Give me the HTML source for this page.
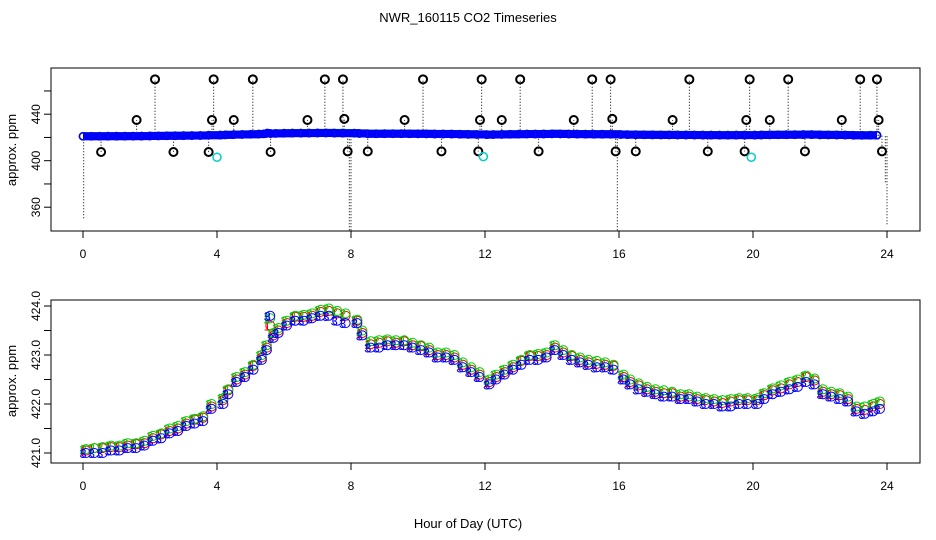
<!DOCTYPE html>
<html><head><meta charset="utf-8"><style>
html,body{margin:0;padding:0;background:#fff;}
svg{display:block;font-family:"Liberation Sans",sans-serif;}
</style></head><body>
<svg id="chart" width="936" height="540" viewBox="0 0 936 540" xmlns="http://www.w3.org/2000/svg">
<text x="468" y="22" text-anchor="middle" font-size="13">NWR_160115  CO2 Timeseries</text>
<text x="468" y="528" text-anchor="middle" font-size="13">Hour of Day (UTC)</text>
<text transform="translate(16,150) rotate(-90)" text-anchor="middle" font-size="13">approx. ppm</text>
<text transform="translate(16,381) rotate(-90)" text-anchor="middle" font-size="13">approx. ppm</text>
<g id="topPanel"></g>
<g id="botPanel"></g>
</svg>
<script>
// ---- data ----
const hours = [0,0.25,0.5,0.75,1,1.25,1.5,1.75,2,2.25,2.5,2.75,3,3.25,3.5,3.75,
4.1,4.25,4.5,4.75,5,5.25,5.4,5.5,5.6,5.75,6,6.25,6.5,6.75,7,7.25,7.5,7.75,
8.1,8.25,8.5,8.75,9,9.25,9.5,9.75,10,10.25,10.5,10.75,11,11.25,11.5,11.75,
12.05,12.25,12.5,12.75,13,13.25,13.5,13.75,14,14.25,14.5,14.75,15,15.25,15.5,15.75,
16.05,16.25,16.5,16.75,17,17.25,17.5,17.75,18,18.25,18.5,18.75,19,19.25,19.5,19.75,
20.05,20.25,20.5,20.75,21,21.25,21.5,21.75,22,22.25,22.5,22.75,23,23.25,23.5,23.7];
const series3 = [421.0,421.0,421.0,421.05,421.05,421.1,421.1,421.15,421.25,421.3,421.4,421.45,421.55,421.6,421.65,421.9,
422.0,422.2,422.45,422.55,422.7,422.9,423.1,423.8,423.35,423.45,423.6,423.7,423.7,423.75,423.8,423.8,423.7,423.65,
423.65,423.4,423.15,423.15,423.2,423.2,423.2,423.15,423.1,423.05,422.95,422.95,422.9,422.75,422.65,422.55,
422.4,422.5,422.6,422.7,422.8,422.9,422.9,422.95,423.1,423.0,422.9,422.85,422.8,422.75,422.75,422.7,
422.5,422.4,422.3,422.25,422.2,422.15,422.15,422.1,422.1,422.05,422.0,422.0,421.95,421.95,422.0,422.0,
422.0,422.1,422.2,422.25,422.3,422.35,422.45,422.4,422.2,422.15,422.1,422.05,421.85,421.8,421.85,421.9];
const series2 = [421.08,421.1,421.12,421.15,421.15,421.2,421.2,421.25,421.35,421.4,421.5,421.55,421.65,421.7,421.75,422.0,
422.12,422.3,422.55,422.65,422.8,423.0,423.2,423.75,423.45,423.55,423.7,423.8,423.82,423.85,423.92,423.95,423.9,423.85,
423.72,423.5,423.28,423.3,423.32,423.3,423.3,423.25,423.2,423.15,423.05,423.05,423.0,422.85,422.75,422.65,
422.5,422.6,422.7,422.8,422.9,423.0,423.02,423.05,423.2,423.1,423.0,422.95,422.9,422.88,422.85,422.8,
422.6,422.5,422.42,422.35,422.3,422.28,422.25,422.2,422.2,422.15,422.12,422.1,422.08,422.1,422.12,422.12,
422.12,422.22,422.32,422.38,422.45,422.5,422.58,422.52,422.3,422.25,422.22,422.15,421.95,421.95,422.0,422.05];
const series1 = [421.05,421.1,421.1,421.12,421.12,421.15,421.18,421.2,421.3,421.38,421.45,421.5,421.6,421.68,421.72,421.95,
422.08,422.28,422.5,422.6,422.78,422.95,423.15,423.6,423.4,423.5,423.65,423.78,423.78,423.8,423.88,423.9,423.85,423.8,
423.7,423.45,423.22,423.25,423.28,423.25,423.28,423.2,423.18,423.1,423.0,423.0,422.95,422.8,422.7,422.6,
422.45,422.55,422.65,422.75,422.88,422.98,422.98,423.0,423.15,423.05,422.98,422.9,422.85,422.82,422.8,422.78,
422.55,422.45,422.38,422.3,422.25,422.22,422.22,422.15,422.15,422.1,422.08,422.05,422.02,422.05,422.08,422.08,
422.08,422.18,422.28,422.32,422.4,422.45,422.55,422.48,422.25,422.2,422.18,422.1,421.9,421.88,421.95,422.0];
const outlierHours = [0.54,1.6,2.15,2.7,3.75,3.85,3.9,4.5,5.07,5.6,6.7,7.22,7.76,7.8,7.9,8.5,9.6,10.15,10.7,11.8,11.85,11.9,12.5,13.05,13.6,14.65,15.2,15.75,15.8,15.9,16.5,17.6,18.1,18.65,19.75,19.8,19.9,20.5,21.05,21.55,22.65,23.2,23.7,23.75,23.85];
const outlierVals = [407.5,435,470,407.5,407.5,435,470,435,470,407.5,435,470,470,436,408,408,435,470,408,408,435,470,435,470,408,435,470,470,436,408,408,435,470,408,408,435,470,435,470,408,435,470,470,435,408];
const calHours = [4.0,11.95,19.95];
const calVals = [403,403.5,403];
const dropHours = [0.02,7.95,8.0,15.95,23.95,24.0];
const dropVals = [350,335,335,335,380,345];
const xTicks = [0,4,8,12,16,20,24];
const topYTicks = [360,380,400,420,440,460];
const topYLabels = ["360","","400","","440",""];
const botYTicks = [421.0,421.5,422.0,422.5,423.0,423.5,424.0];
const botYLabels = ["421.0","","422.0","","423.0","","424.0"];

// ---- scales ----
const NS="http://www.w3.org/2000/svg";
const xS = h => 83 + h*33.5;
const yTop = v => 160.7 - (v-400)*1.1625;
const yBot = v => 453 - (v-421)*49;
function mk(tag, attrs, parent){const e=document.createElementNS(NS,tag);for(const k in attrs)e.setAttribute(k,attrs[k]);parent.appendChild(e);return e;}

function frame(g, y0, y1, yScale, yt, yl, prefix){
  const b = mk('rect',{x:51,y:y0,width:869,height:y1-y0,fill:'none',stroke:'#000','stroke-width':1},g);
  
  
  const ax = mk('line',{x1:xS(0),x2:xS(24),y1:y1,y2:y1,stroke:'#000'},g);
  
  
  xTicks.forEach(t=>{
    mk('line',{x1:xS(t),x2:xS(t),y1:y1,y2:y1+7,stroke:'#000'},g);
    const tx = mk('text',{x:xS(t),y:y1+27,'text-anchor':'middle','font-size':12},g);
    tx.textContent=t;
    
    
  });
  yt.forEach((t,i)=>{
    const y=yScale(t);
    mk('line',{x1:44,x2:51,y1:y,y2:y,stroke:'#000'},g);
    if(yl[i]){
      const tx = mk('text',{transform:`translate(40,${y}) rotate(-90)`,'text-anchor':'middle','font-size':12},g);
      tx.textContent=yl[i];
      
      
    }
  });
}

const topG = document.getElementById('topPanel');
frame(topG, 68, 231, yTop, topYTicks, topYLabels, 'top');
dropHours.forEach((h,i)=>{
  const l = mk('line',{x1:xS(h),x2:xS(h),y1:yTop(421),y2:Math.min(231,yTop(dropVals[i])),stroke:'#000','stroke-dasharray':'1,2'},topG);
  
  
});
outlierHours.forEach((h,i)=>{
  const l = mk('line',{x1:xS(h),x2:xS(h),y1:yTop(421.5),y2:yTop(outlierVals[i]),stroke:'#000','stroke-dasharray':'1,2'},topG);
  
  
});
[[series1,'#f00'],[series2,'#0c0'],[series3,'#00f']].forEach(([s,c])=>{
  for(let i=0;i<hours.length;i++){
    const p = mk('circle',{cx:xS(hours[i]),cy:yTop(s[i]),r:3.6,fill:'none',stroke:c,'stroke-width':1.5},topG);
    
    
    if(i<hours.length-1 && hours[i+1]-hours[i]<0.4){
      const r = mk('rect',{x:xS(hours[i]),y:yTop(s[i])-4,width:xS(hours[i+1])-xS(hours[i]),height:8,fill:c},topG);
      
      
    }
  }
});
outlierHours.forEach((h,i)=>{
  const c = mk('circle',{cx:xS(h),cy:yTop(outlierVals[i]),r:4,fill:'none',stroke:'#000','stroke-width':2},topG);
  
  
});
calHours.forEach((h,i)=>{
  const c = mk('circle',{cx:xS(h),cy:yTop(calVals[i]),r:4,fill:'none',stroke:'#0cc','stroke-width':1.5},topG);
  
  
});

const botG = document.getElementById('botPanel');
frame(botG, 300, 463, yBot, botYTicks, botYLabels, 'bottom');
[[series1,'#f00','1'],[series2,'#0c0','2'],[series3,'#00f','3']].forEach(([s,c,ch])=>{
  for(let i=0;i<hours.length;i++){
    const t = mk('text',{x:xS(hours[i]),y:yBot(s[i])+5,'text-anchor':'middle','font-size':13,fill:c},botG);
    t.textContent=ch;
    
    
    const o = mk('circle',{cx:xS(hours[i])+3,cy:yBot(s[i]),r:4.5,fill:'none',stroke:c,'stroke-width':1},botG);
    
    
  }
});
</script>
</body></html>
